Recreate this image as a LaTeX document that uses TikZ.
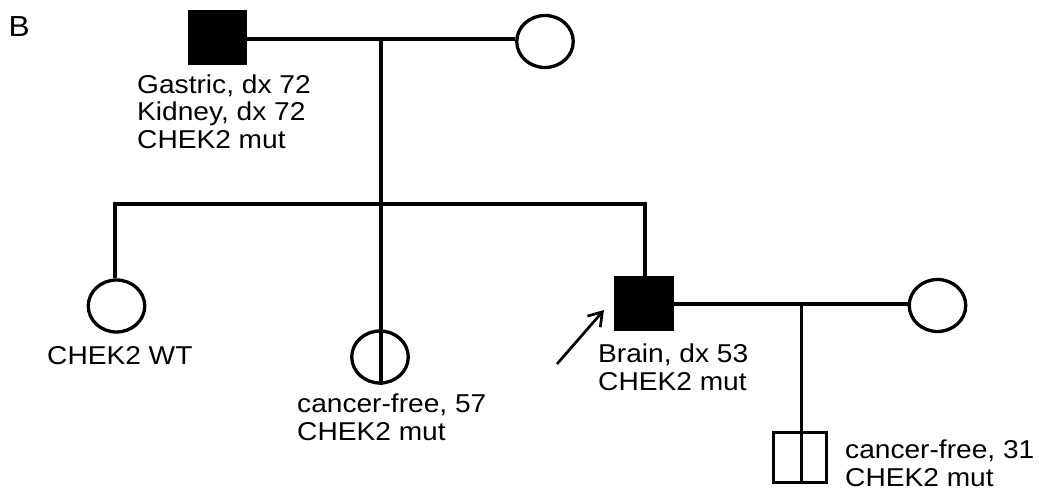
\documentclass[tikz,border=0pt]{standalone}
\usepackage{fontspec}
\setmainfont{Liberation Sans}[FakeStretch=1.09]
\usetikzlibrary{shapes.geometric,arrows.meta}
\tikzset{
  line/.style={line width=3.3pt},
  affected/.style={rectangle, fill=black, draw=black, line width=3.3pt, minimum width=56.5pt, minimum height=51.5pt, inner sep=0pt},
  male/.style={rectangle, draw=black, line width=3.3pt, minimum width=53.5pt, minimum height=50.5pt, inner sep=0pt},
  female/.style={ellipse, draw=black, line width=3.3pt, minimum width=56.5pt, minimum height=52pt, inner sep=0pt},
  lbl/.style={anchor=base west, align=left, inner sep=0pt, font=\fontsize{25.8}{27.4}\selectfont},
}
\begin{document}
\begin{tikzpicture}[x=1pt,y=-1pt]
\useasboundingbox (0,0) rectangle (1039,490);
\node[anchor=base west, inner sep=0pt, font=\fontsize{29}{30}\selectfont] (B) at (8.5,36) {B};
% generation I
\node[affected] (F1) at (217.5,37.5) {};
\node[female] (M1) at (545,41.5) {};
\coordinate (c1) at (381,39);
% sibship line
\coordinate (s0) at (381,204);
\coordinate (sL) at (115,204);
\coordinate (sR) at (645,204);
% generation II
\node[female] (D1) at (116.5,306) {};
\node[female] (D2) at (380,357) {};
\node[affected] (P) at (644,303.5) {};
\node[female] (S) at (937.5,305.5) {};
\coordinate (c2) at (801.5,304);
% generation III
\node[male] (C) at (800,457.5) {};
% connectors
\draw[line] (F1.east |- c1) -- (c1) -- (M1.west |- c1);
\draw[line] (c1) -- (s0);
\draw[line] (sL |- D1.north) -- (sL) -- (sR) -- (sR |- P.north);
\draw[line] (s0) -- (s0 |- D2.south);
\draw[line] (P.east |- c2) -- (c2) -- (S.west |- c2);
\draw[line] (c2) -- (c2 |- C.south);
% proband arrow
\coordinate (at0) at (557,364);
\coordinate (at1) at (604,310);
\draw[line width=2.7pt, -{Straight Barb[length=13pt,width=17pt]}] (at0) -- (at1);
% labels (anchor = baseline of last line)
\node[lbl] (LF1) at (137,148) {Gastric, dx 72\\Kidney, dx 72\\CHEK2 mut};
\node[lbl] (LD1) at (47,364) {CHEK2 WT};
\node[lbl] (LD2) at (297,440) {cancer-free, 57\\CHEK2 mut};
\node[lbl] (LP) at (598,390) {Brain, dx 53\\CHEK2 mut};
\node[lbl] (LC) at (845,486) {cancer-free, 31\\CHEK2 mut};
\end{tikzpicture}
\end{document}
